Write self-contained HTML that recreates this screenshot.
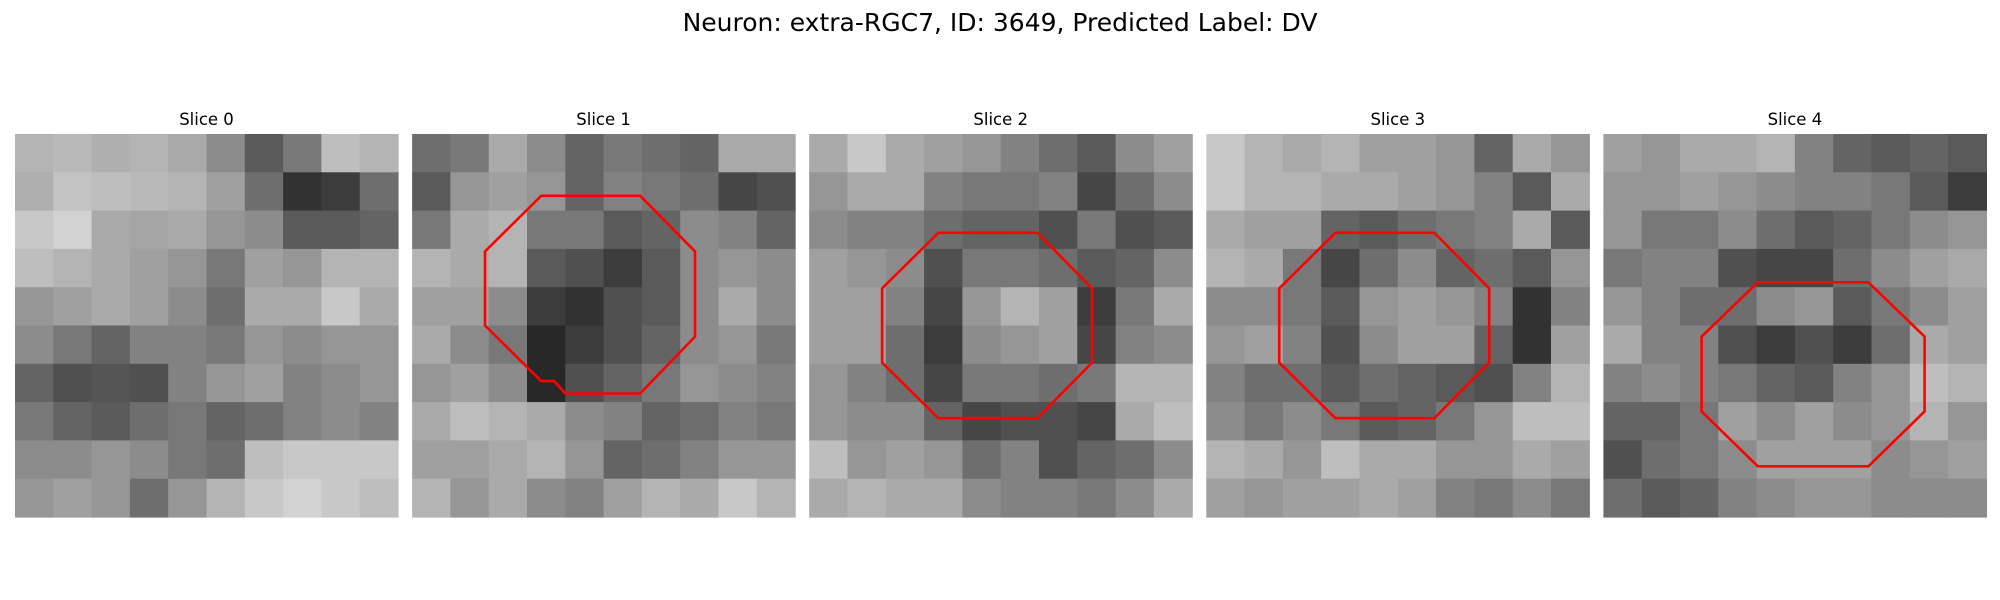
<!DOCTYPE html>
<html><head><meta charset="utf-8"><style>
html,body{margin:0;padding:0;background:#fff;}
svg{display:block;font-family:"DejaVu Sans","Liberation Sans",sans-serif;}
</style></head><body>
<svg id="fig" width="2000" height="600" viewBox="0 0 2000 600" xmlns="http://www.w3.org/2000/svg">
<rect width="2000" height="600" fill="#fff"/>
<text x="1000" y="31" font-size="25" text-anchor="middle" fill="#000">Neuron: extra-RGC7, ID: 3649, Predicted Label: DV</text>
<g id="panels"></g>
</svg>
<script>
const sliceTitles = ["Slice 0","Slice 1","Slice 2","Slice 3","Slice 4"];
const slice0 = [
[180,185,175,180,170,140,90,120,190,180],
[175,195,190,185,180,160,110,50,60,110],
[200,210,170,165,170,150,140,90,90,100],
[190,180,170,160,150,120,160,150,180,180],
[150,160,170,160,140,110,170,170,200,170],
[140,120,100,130,130,120,150,140,150,150],
[100,80,85,80,130,150,160,130,140,150],
[120,100,90,110,120,100,110,130,140,130],
[140,140,150,140,120,110,190,200,200,200],
[150,160,150,110,150,180,200,210,200,190]];
const slice1 = [
[110,120,170,140,100,120,110,100,170,170],
[90,150,160,150,100,130,120,110,70,80],
[120,170,180,120,120,90,100,140,130,100],
[180,170,180,90,80,60,90,140,150,140],
[160,160,140,60,50,80,90,140,170,140],
[170,140,120,40,60,80,100,140,150,120],
[150,160,140,40,80,100,120,150,140,130],
[170,190,180,170,140,130,100,110,130,120],
[160,160,170,180,150,100,110,130,150,150],
[180,150,170,140,130,160,180,170,200,180]];
const slice2 = [
[170,200,170,160,150,130,110,90,140,160],
[150,170,170,130,120,120,130,70,110,140],
[140,130,130,110,100,100,80,120,80,90],
[160,150,140,80,120,120,110,90,100,140],
[160,160,130,70,150,180,160,60,120,170],
[160,160,110,60,140,150,160,70,130,140],
[150,130,110,70,120,120,110,120,180,180],
[150,140,140,100,70,80,80,70,170,190],
[190,150,160,150,110,130,80,100,110,140],
[170,180,170,170,140,130,130,120,140,170]];
const slice3 = [
[200,180,170,180,160,160,150,100,170,150],
[200,180,180,170,170,160,150,130,90,170],
[170,160,160,100,90,110,120,130,170,90],
[180,170,120,70,110,140,100,110,90,150],
[140,140,120,90,150,160,150,130,50,130],
[150,160,130,80,140,160,160,100,50,160],
[130,110,110,90,110,100,90,80,130,180],
[140,120,140,120,90,100,120,150,190,190],
[180,170,150,190,170,170,150,150,170,160],
[160,150,160,160,170,160,130,120,140,120]];
const slice4 = [
[160,150,170,170,180,130,100,90,100,90],
[150,150,160,150,140,130,130,120,90,60],
[150,120,120,140,110,90,100,120,140,150],
[120,130,130,80,70,70,110,140,160,170],
[150,130,110,110,140,150,90,120,140,160],
[170,130,130,80,60,80,60,110,170,160],
[130,140,130,120,100,90,130,150,190,180],
[100,100,120,160,140,160,140,150,180,150],
[80,110,120,140,160,160,160,140,150,160],
[110,90,100,130,140,150,150,140,140,140]];
const slices = [slice0,slice1,slice2,slice3,slice4];
const oct1 = [[10.45,5],[18.46,5],[22.9,9.5],[22.9,16.4],[18.46,21],[12.4,21],[11.5,20],[10.45,20],[5.9,15.5],[5.9,9.5]];
const oct2 = [[10.45,8],[18.46,8],[22.9,12.5],[22.9,18.5],[18.46,23],[10.45,23],[5.9,18.5],[5.9,12.5]];
const oct3 = [[10.45,8],[18.46,8],[22.9,12.5],[22.9,18.5],[18.46,23],[10.45,23],[5.9,18.5],[5.9,12.5]];
const oct4 = [[12.5,12],[21.45,12],[26,16.4],[26,22.45],[21.45,26.9],[12.5,26.9],[7.95,22.45],[7.95,16.4]];
const octs = [null,oct1,oct2,oct3,oct4];

const NS="http://www.w3.org/2000/svg";
const panelX0=15, panelStep=397.1, panelY=134, panelSize=383, gridN=31;
const g=document.getElementById('panels');
function xScale(p,u){return panelX0+p*panelStep+u*panelSize/gridN;}
function yScale(u){return panelY+u*panelSize/gridN;}
slices.forEach((data,p)=>{
  const pg=document.createElementNS(NS,'g');
  
  
  const n=data.length, cs=panelSize/n;
  data.forEach((row,r)=>row.forEach((v,c)=>{
    const rc=document.createElementNS(NS,'rect');
    
    
    const x=panelX0+p*panelStep+c*cs, y=panelY+r*cs;
    rc.setAttribute('x',x.toFixed(2));rc.setAttribute('y',y.toFixed(2));
    rc.setAttribute('width',(cs+0.6).toFixed(2));rc.setAttribute('height',(cs+0.6).toFixed(2));
    rc.setAttribute('fill','rgb('+v+','+v+','+v+')');
    pg.appendChild(rc);
  }));
  const t=document.createElementNS(NS,'text');
  
  
  t.setAttribute('x',(panelX0+p*panelStep+panelSize/2).toFixed(1));
  t.setAttribute('y','125');t.setAttribute('font-size','16.5');
  t.setAttribute('text-anchor','middle');t.textContent=sliceTitles[p];
  pg.appendChild(t);
  if(octs[p]){
    const pl=document.createElementNS(NS,'polygon');
    
    
    pl.setAttribute('points',octs[p].map(q=>xScale(p,q[0]).toFixed(1)+','+yScale(q[1]).toFixed(1)).join(' '));
    pl.setAttribute('fill','none');pl.setAttribute('stroke','#ff0000');pl.setAttribute('stroke-width','2.6');
    pg.appendChild(pl);
  }
  g.appendChild(pg);
});
</script>
</body></html>
